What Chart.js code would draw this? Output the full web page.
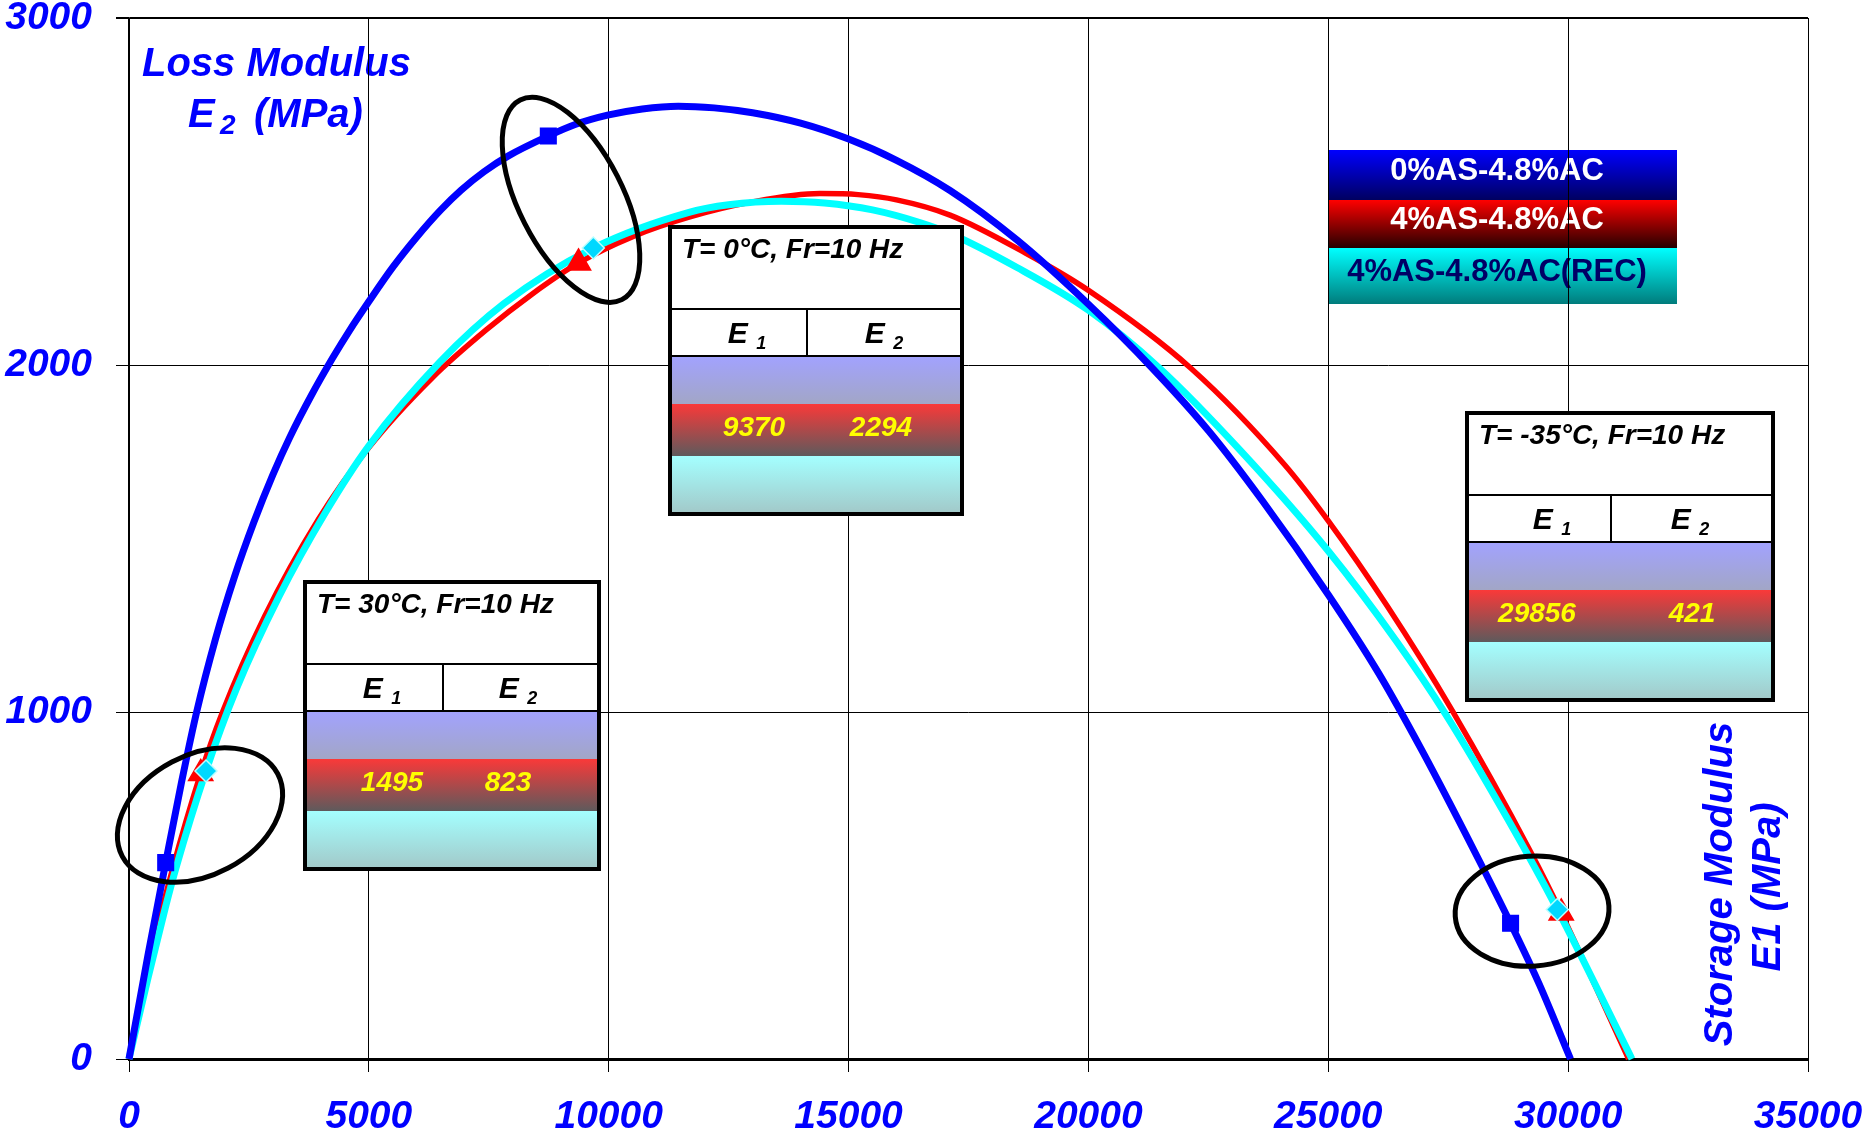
<!DOCTYPE html>
<html>
<head>
<meta charset="utf-8">
<script src="https://cdn.jsdelivr.net/npm/chart.js@4.4.1/dist/chart.umd.min.js"></script>
<style>
  html, body { margin: 0; padding: 0; background: #fff; }
  canvas { display: block; }
</style>
</head>
<body>
<canvas id="cole" width="1865" height="1144"></canvas>
<script>
// ---- data -------------------------------------------------------------
const seriesNames = ['0%AS-4.8%AC', '4%AS-4.8%AC', '4%AS-4.8%AC(REC)'];
const xTicks = [0, 5000, 10000, 15000, 20000, 25000, 30000, 35000];
const yTicks = [0, 1000, 2000, 3000];
const temps = ['30', '0', '-35'];

// Cole-Cole curves: storage modulus E1 (x) vs loss modulus E2 (y), MPa
const blueE1 = [0, 400, 1100, 1415, 1800, 2200, 2606, 3000, 3350, 3800, 4244, 4600, 5000, 5500, 6000, 6500, 6924, 7400, 7900, 9300, 9976, 10700, 11450, 12200, 13000, 14000, 15000, 16000, 17115, 18512, 20000, 21303, 22512, 23630, 25000, 26049, 26980, 28097, 29400, 30050];
const blueE2 = [0, 303, 801, 1003, 1209, 1390, 1548, 1684, 1791, 1912, 2020, 2100, 2183, 2282, 2369, 2447, 2504, 2557, 2602, 2693, 2720, 2738, 2746, 2741, 2727, 2697, 2651, 2590, 2503, 2360, 2175, 1995, 1809, 1608, 1338, 1112, 882, 585, 215, 0];

const redE1 = [0, 447, 893, 1936, 2829, 3946, 5000, 6328, 7445, 8400, 10500, 11674, 13000, 14400, 15200, 16000, 17115, 18697, 20000, 22141, 24094, 25000, 26235, 27584, 29214, 31260];
const redE2 = [0, 295, 540, 995, 1276, 1555, 1762, 1964, 2101, 2204, 2370, 2426, 2470, 2494, 2491, 2476, 2432, 2322, 2215, 1990, 1712, 1551, 1304, 1004, 598, 0];

const cyanE1 = [0, 400, 750, 968, 2234, 3127, 4095, 5000, 6477, 7817, 11674, 12500, 13600, 14500, 15500, 16500, 17115, 18512, 20000, 21489, 23165, 25000, 26421, 27445, 28747, 31330];
const cyanE2 = [0, 236, 432, 545, 1065, 1333, 1575, 1767, 2008, 2177, 2440, 2462, 2472, 2467, 2447, 2410, 2379, 2281, 2158, 1990, 1754, 1464, 1204, 994, 690, 0];

// measured points at T = 30, 0 and -35 °C (Fr = 10 Hz)
const blueMarkE1 = [765, 8741, 28800];
const blueMarkE2 = [566, 2660, 391];
const redMarkE1 = [1495, 9370, 29856];
const redMarkE2 = [823, 2294, 421];
const cyanMarkE1 = [1605, 9679, 29775];
const cyanMarkE2 = [830, 2337, 431];

// ---- helpers ----------------------------------------------------------
const FAMILY = '"Liberation Sans", Arial, Helvetica, sans-serif';
const font = (size, italic = true) => `${italic ? 'italic ' : ''}bold ${size}px ${FAMILY}`;

const toPoints = (e1, e2) => e1.map((x, i) => ({ x, y: e2[i] }));

// curve samples plus the measured points, ordered along E1
function curve(e1, e2, m1, m2) {
  return toPoints(e1, e2).concat(toPoints(m1, m2)).sort((a, b) => a.x - b.x);
}

function lineSet(label, data, color, width, order) {
  return {
    label, data, order,
    showLine: true,
    borderColor: color,
    borderWidth: width,
    cubicInterpolationMode: 'monotone',
    pointRadius: 0,
    pointHoverRadius: 0,
    clip: false
  };
}

function markSet(label, data, style, radius, fill, border, order) {
  return {
    label, data, order,
    showLine: false,
    pointStyle: style,
    pointRadius: radius,
    pointHoverRadius: radius,
    pointBackgroundColor: fill,
    pointBorderColor: border,
    pointBorderWidth: 1.5,
    clip: false
  };
}

function vGrad(ctx, y0, y1, c0, c1) {
  const g = ctx.createLinearGradient(0, y0, 0, y1);
  g.addColorStop(0, c0);
  g.addColorStop(1, c1);
  return g;
}

// text with a lowered small suffix, centred on cx
function subText(ctx, base, sub, cx, cy, bigSize, smallSize, drop) {
  ctx.font = font(bigSize);
  const wb = ctx.measureText(base + ' ').width;
  ctx.font = font(smallSize);
  const ws = ctx.measureText(sub).width;
  const x0 = cx - (wb + ws) / 2;
  ctx.textAlign = 'left';
  ctx.textBaseline = 'alphabetic';
  ctx.font = font(bigSize);
  ctx.fillText(base, x0, cy + bigSize * 0.36);
  ctx.font = font(smallSize);
  ctx.fillText(sub, x0 + wb, cy + bigSize * 0.36 + drop);
}

// ---- overlay layout ---------------------------------------------------
const legendBox = { x: 1329, y: 150, w: 348, rows: [50, 48, 56] };
const legendFills = [['#0000ff', '#000060'], ['#ff0000', '#250000'], ['#00ffff', '#007c7c']];
const legendText = ['#ffffff', '#ffffff', '#000066'];

const tableBoxes = [
  { x: 305, y: 582, w: 294, div: 138, h1: 77, h2: 213, v1: 87, v2: 203 },
  { x: 670, y: 227, w: 292, div: 137, h1: 77, h2: 214, v1: 84, v2: 211 },
  { x: 1467, y: 413, w: 306, div: 144, h1: 85, h2: 223, v1: 70, v2: 225 }
];
const rowH = { title: 82, head: 47, blue: 48, red: 52, cyan: 58 };

const rings = [
  { e1: 1480, e2: 703, rx: 88, ry: 60, rot: -28 },
  { e1: 9214, e2: 2476, rx: 112, ry: 52, rot: 63 },
  { e1: 29248, e2: 426, rx: 77, ry: 55, rot: -4 }
];

function drawLegend(ctx) {
  let y = legendBox.y;
  legendBox.rows.forEach((h, i) => {
    ctx.fillStyle = vGrad(ctx, y, y + h, legendFills[i][0], legendFills[i][1]);
    ctx.fillRect(legendBox.x, y, legendBox.w, h);
    ctx.fillStyle = legendText[i];
    ctx.font = font(31, false);
    ctx.textAlign = 'center';
    ctx.textBaseline = 'middle';
    ctx.fillText(seriesNames[i], legendBox.x + legendBox.w / 2 - 6, y + h / 2 - 4);
    y += h;
  });
}

function drawAxisTitles(ctx, a) {
  ctx.fillStyle = '#0000ff';
  ctx.textAlign = 'left';
  ctx.textBaseline = 'alphabetic';
  ctx.font = font(40);
  ctx.fillText('Loss Modulus', a.left + 13, a.top + 58);
  ctx.fillText('E', a.left + 59, a.top + 109);
  ctx.font = font(28);
  ctx.fillText('2', a.left + 91, a.top + 116);
  ctx.font = font(40);
  ctx.fillText('(MPa)', a.left + 125, a.top + 109);

  ctx.textAlign = 'center';
  ctx.save();
  ctx.translate(a.right - 76, a.bottom - 175);
  ctx.rotate(-Math.PI / 2);
  ctx.fillText('Storage Modulus', 0, 0);
  ctx.restore();
  ctx.save();
  ctx.translate(a.right - 28, a.bottom - 172);
  ctx.rotate(-Math.PI / 2);
  ctx.fillText('E1 (MPa)', 0, 0);
  ctx.restore();
}

function drawTable(ctx, t, k) {
  const y0 = t.y;
  const yHead = y0 + rowH.title;
  const yBlue = yHead + rowH.head;
  const yRed = yBlue + rowH.blue;
  const yCyan = yRed + rowH.red;
  const yEnd = yCyan + rowH.cyan;

  ctx.fillStyle = '#ffffff';
  ctx.fillRect(t.x, y0, t.w, yBlue - y0);
  ctx.fillStyle = vGrad(ctx, yBlue, yRed, '#a2a2ff', '#a2a6c6');
  ctx.fillRect(t.x, yBlue, t.w, rowH.blue);
  ctx.fillStyle = vGrad(ctx, yRed, yCyan, '#fa3939', '#5e5a5c');
  ctx.fillRect(t.x, yRed, t.w, rowH.red);
  ctx.fillStyle = vGrad(ctx, yCyan, yEnd, '#a4ffff', '#a2c8c8');
  ctx.fillRect(t.x, yCyan, t.w, rowH.cyan);

  ctx.strokeStyle = '#000';
  ctx.lineWidth = 2;
  ctx.beginPath();
  ctx.moveTo(t.x, yHead); ctx.lineTo(t.x + t.w, yHead);
  ctx.moveTo(t.x, yBlue); ctx.lineTo(t.x + t.w, yBlue);
  ctx.moveTo(t.x + t.div, yHead); ctx.lineTo(t.x + t.div, yBlue);
  ctx.stroke();
  ctx.lineWidth = 4;
  ctx.strokeRect(t.x, y0, t.w, yEnd - y0);

  ctx.fillStyle = '#000';
  ctx.font = font(28);
  ctx.textAlign = 'left';
  ctx.textBaseline = 'middle';
  ctx.fillText(`T= ${temps[k]}°C, Fr=10 Hz`, t.x + 12, y0 + 23);

  const hy = (yHead + yBlue) / 2;
  subText(ctx, 'E', '1', t.x + t.h1, hy, 30, 18, 6);
  subText(ctx, 'E', '2', t.x + t.h2, hy, 30, 18, 6);

  ctx.fillStyle = '#ffff00';
  ctx.font = font(28);
  ctx.textAlign = 'center';
  ctx.textBaseline = 'middle';
  const vy = (yRed + yCyan) / 2 - 2;
  ctx.fillText(String(redMarkE1[k]), t.x + t.v1, vy);
  ctx.fillText(String(redMarkE2[k]), t.x + t.v2, vy);
}

const overlay = {
  id: 'overlay',
  beforeDraw(chart) {
    const ctx = chart.ctx;
    ctx.save();
    drawLegend(ctx);
    drawAxisTitles(ctx, chart.chartArea);
    ctx.restore();
  },
  afterDraw(chart) {
    const ctx = chart.ctx;
    ctx.save();
    tableBoxes.forEach((t, k) => drawTable(ctx, t, k));
    const xs = chart.scales.x, ys = chart.scales.y;
    ctx.strokeStyle = '#000';
    ctx.lineWidth = 5;
    rings.forEach(r => {
      ctx.beginPath();
      ctx.ellipse(xs.getPixelForValue(r.e1), ys.getPixelForValue(r.e2), r.rx, r.ry, r.rot * Math.PI / 180, 0, Math.PI * 2);
      ctx.stroke();
    });
    ctx.restore();
  }
};

// ---- chart ------------------------------------------------------------
const tickFont = { family: FAMILY, size: 39, style: 'italic', weight: 'bold' };

new Chart(document.getElementById('cole'), {
  type: 'scatter',
  data: {
    datasets: [
      // markers sit above every curve; among curves blue is on top, red at the bottom
      markSet(seriesNames[2] + ' points', toPoints(cyanMarkE1, cyanMarkE2), 'rectRot', 11, '#00d8ff', '#b8ffff', 0),
      markSet(seriesNames[1] + ' points', toPoints(redMarkE1, redMarkE2), 'triangle', 14, '#ff0000', '#ff0000', 1),
      markSet(seriesNames[0] + ' points', toPoints(blueMarkE1, blueMarkE2), 'rect', 11, '#0000ff', '#0000ff', 2),
      lineSet(seriesNames[0], curve(blueE1, blueE2, blueMarkE1, blueMarkE2), '#0000ff', 7, 3),
      lineSet(seriesNames[2], curve(cyanE1, cyanE2, cyanMarkE1, cyanMarkE2), '#00ffff', 7, 4),
      lineSet(seriesNames[1], curve(redE1, redE2, redMarkE1, redMarkE2), '#ff0000', 5.5, 5)
    ]
  },
  options: {
    responsive: false,
    animation: false,
    events: [],
    layout: { padding: { left: 0, top: 18, right: 57, bottom: 0 } },
    plugins: { legend: { display: false }, tooltip: { enabled: false } },
    scales: {
      x: {
        type: 'linear',
        min: 0,
        max: 35000,
        afterBuildTicks: axis => { axis.ticks = xTicks.map(v => ({ value: v })); },
        ticks: { callback: v => String(v), color: '#0000ff', font: tickFont, padding: 22, maxRotation: 0, autoSkip: false },
        grid: { color: '#000', lineWidth: 1, tickLength: 13 },
        border: { color: '#000', width: 3 },
        afterFit: axis => { axis.height = 85; axis.paddingLeft = 0; axis.paddingRight = 0; }
      },
      y: {
        type: 'linear',
        min: 0,
        max: 3000,
        afterBuildTicks: axis => { axis.ticks = yTicks.map(v => ({ value: v })); },
        ticks: { callback: v => String(v), color: '#0000ff', font: tickFont, padding: 24 },
        grid: { color: '#000', lineWidth: c => (c.tick && c.tick.value === 3000 ? 2 : 1), tickLength: 13 },
        border: { color: '#000', width: 1.5 },
        afterFit: axis => { axis.width = 129; axis.paddingTop = 0; axis.paddingBottom = 0; }
      }
    }
  },
  plugins: [overlay]
});
</script>
</body>
</html>
